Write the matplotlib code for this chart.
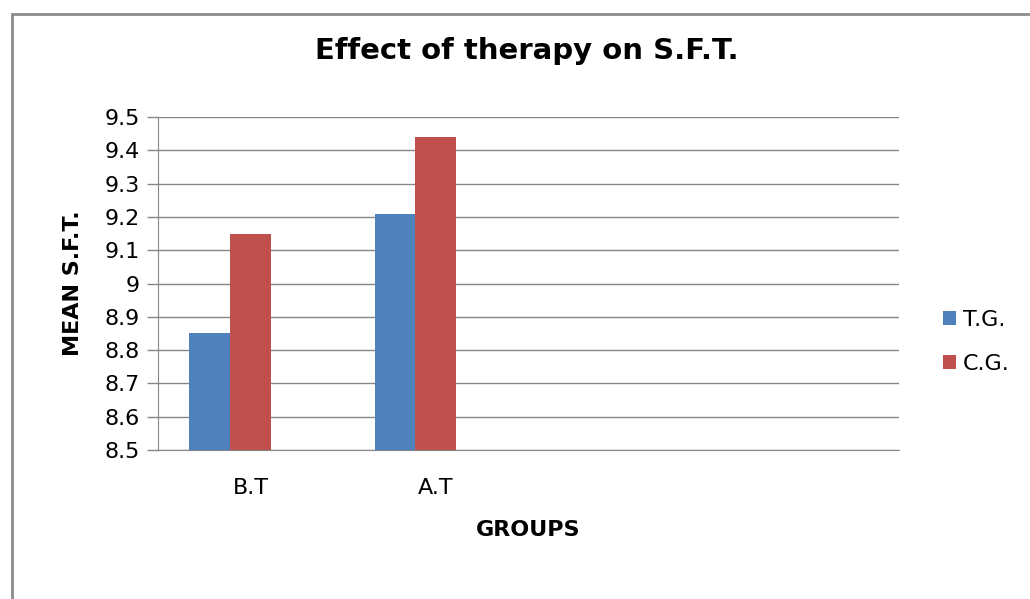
import numpy as np
import matplotlib.pyplot as plt
from matplotlib.patches import Rectangle

# data
groups = ['B.T', 'A.T', '', '']
tg = [8.85, 9.21]
cg = [9.15, 9.44]
yticks = [8.5, 8.6, 8.7, 8.8, 8.9, 9.0, 9.1, 9.2, 9.3, 9.4, 9.5]
ytick_labels = ['8.5', '8.6', '8.7', '8.8', '8.9', '9', '9.1', '9.2', '9.3', '9.4', '9.5']

plt.rcParams['font.family'] = ['Verdana', 'DejaVu Sans']

fig = plt.figure(figsize=(10.30, 5.99), dpi=100)
ax = fig.add_axes([158 / 1030, 1 - 450 / 599, 741 / 1030, 333 / 599])

x = np.arange(len(groups))
w = 0.22
# the source chart reserves three bar slots per group (third one empty)
ax.bar(x[:len(tg)] - w, np.array(tg) - 8.5, w, bottom=8.5, color='#4f81bd', label='T.G.', zorder=3)
ax.bar(x[:len(cg)], np.array(cg) - 8.5, w, bottom=8.5, color='#c0504d', label='C.G.', zorder=3)

ax.set_xlim(-0.5, len(groups) - 0.5)
ax.set_ylim(8.5, 9.5)
ax.set_yticks(yticks)
ax.set_yticklabels(ytick_labels, fontsize=16)
ax.set_xticks(x)
ax.set_xticklabels(groups, fontsize=16)
ax.tick_params(axis='x', length=0, pad=20)
ax.tick_params(axis='y', length=8, color='#868686', width=1, pad=5)
ax.yaxis.grid(True, color='#868686', linewidth=1, zorder=0)

for s in ['top', 'right']:
    ax.spines[s].set_visible(False)
for s in ['left', 'bottom']:
    ax.spines[s].set_color('#868686')

ax.set_ylabel('MEAN S.F.T.', fontsize=16, fontweight='bold')
ax.yaxis.set_label_coords(-(158 - 83) / 741, 0.5)
ax.set_xlabel('GROUPS', fontsize=16, fontweight='bold')
ax.xaxis.set_label_coords((528 - 158) / 741, -(520 - 450) / 333)
fig.text(527 / 1030, 1 - 51 / 599, 'Effect of therapy on S.F.T.', fontsize=21,
         fontweight='bold', ha='center', va='center')

ax.legend(loc='center left', bbox_to_anchor=(923 / 1030, 1 - 342 / 599),
          bbox_transform=fig.transFigure, frameon=False, fontsize=16,
          handlelength=0.6, handleheight=0.6, handletextpad=0.3, labelspacing=1.1)

# outer chart border (cut off at right and bottom)
fig.patches.append(Rectangle((12 / 1030, -0.1), 1.1, 1 - 14 / 599 + 0.1,
                             transform=fig.transFigure, fill=False,
                             edgecolor='#8c8c8c', linewidth=2, clip_on=False))

fig.savefig('out.png', dpi=100)
